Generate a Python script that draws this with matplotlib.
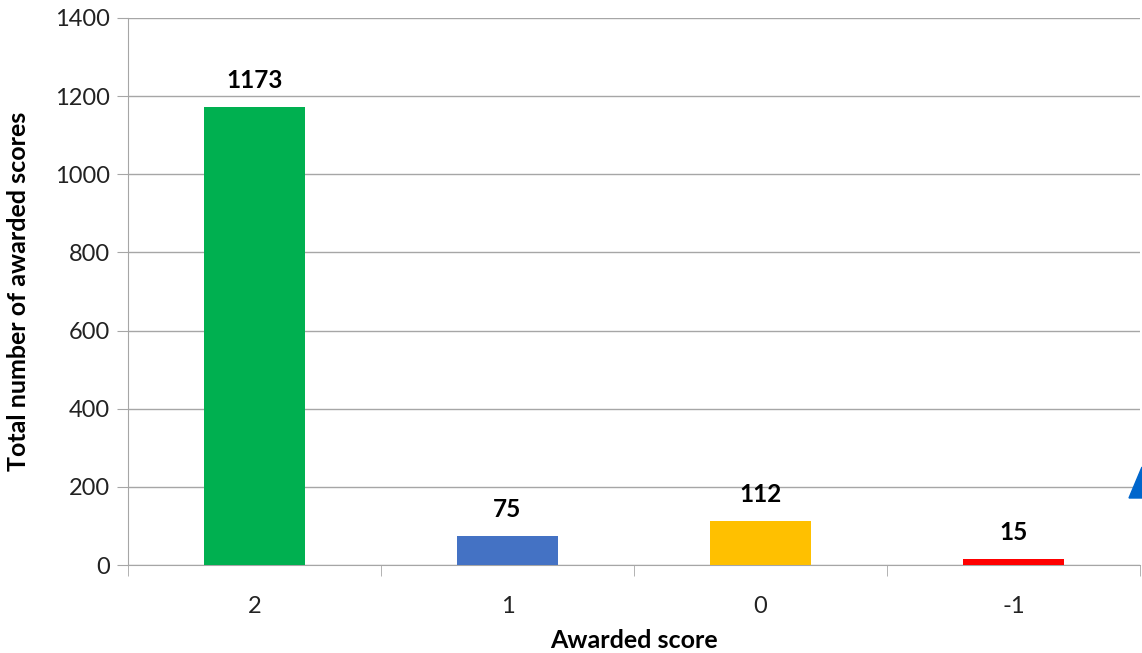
import matplotlib.pyplot as plt
import matplotlib as mpl
import numpy as np
from matplotlib.patches import Polygon

plt.rcParams['font.family'] = ['Lato', 'DejaVu Sans']

# data
categories = ['2', '1', '0', '-1']
counts = [1173, 75, 112, 15]
colors = ['#00B050', '#4472C4', '#FFC000', '#FF0000']

fig = plt.figure(figsize=(11.42, 6.53), dpi=100)
ax = fig.add_axes([128/1142, 1-565/653, 1012/1142, (565-18)/653])

x = np.arange(len(categories))
bars = ax.bar(x, counts, width=0.4, color=colors, zorder=3)
for xi, c in zip(x, counts):
    ax.text(xi, c + 38, str(c), ha='center', va='bottom', fontsize=17.5, fontweight='bold', color='black')

ax.set_xlim(-0.5, len(categories)-0.5)
ax.set_ylim(0, 1400)
ax.set_yticks(np.arange(0, 1401, 200))
ax.yaxis.grid(True, color='#a6a6a6', linewidth=1.0, zorder=0)
ax.set_axisbelow(True)

ax.set_xticks(x)
ax.set_xticklabels(categories)
ax.set_xticks(np.arange(-0.5, len(categories)), minor=True)
ax.tick_params(axis='x', which='major', length=0, pad=22, labelsize=17, colors='#222222')
ax.tick_params(axis='x', which='minor', length=8, color='#a6a6a6', direction='out')
ax.tick_params(axis='y', length=8, color='#a6a6a6', labelsize=17, pad=5, labelcolor='#222222')

for s in ['top', 'right']:
    ax.spines[s].set_visible(False)
for s in ['left', 'bottom']:
    ax.spines[s].set_color('#a6a6a6')

ax.set_xlabel('Awarded score', fontsize=18, fontweight='bold', labelpad=9)
ax.set_ylabel('Total number of awarded scores', fontsize=18, fontweight='bold', labelpad=18)

# partial blue triangle at right edge
tri = Polygon([[1129/1142, 1-498/653], [1142/1142, 1-467/653], [1142/1142, 1-498/653]],
              closed=True, transform=fig.transFigure, color='#0066CC')
fig.patches.append(tri)

plt.savefig('out.png', dpi=100)
